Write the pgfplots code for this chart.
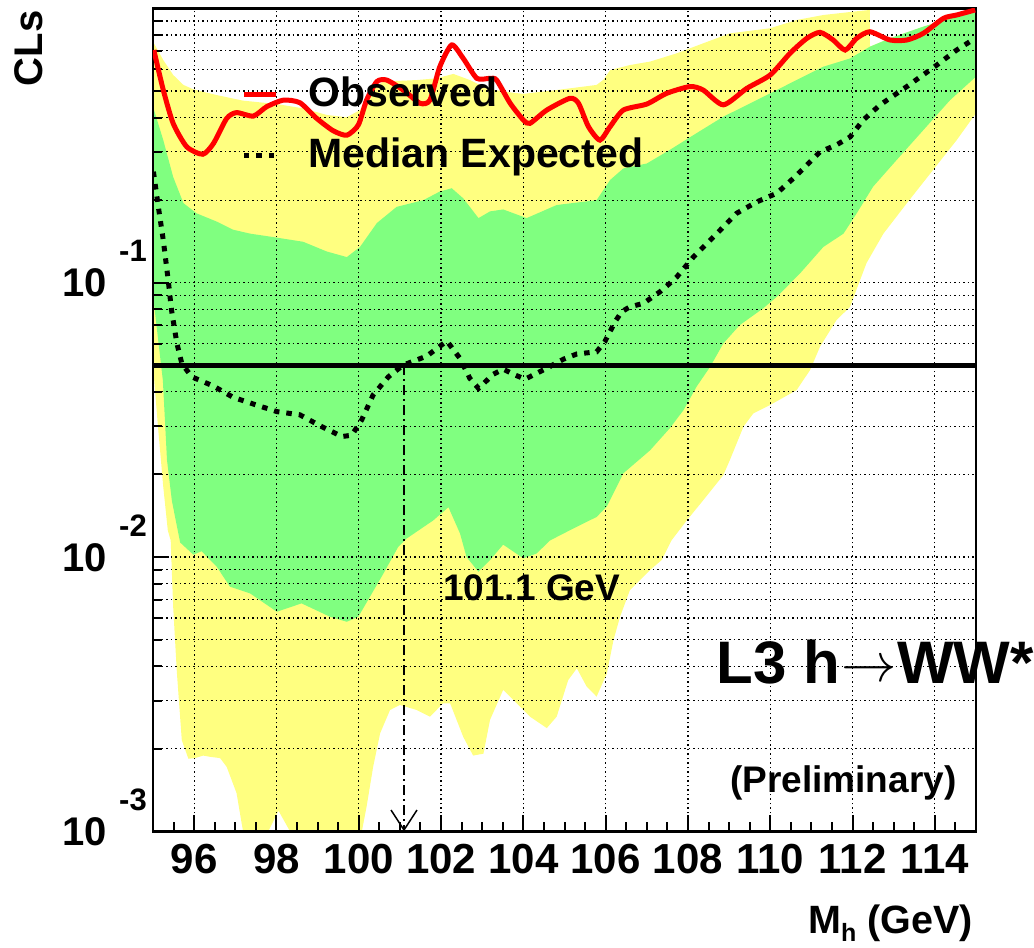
\documentclass[border=0pt]{standalone}
\usepackage{fontspec}
\setmainfont{Liberation Sans}
\usepackage{graphicx}
\usepackage{pgfplots}
\pgfplotsset{compat=1.18}
\usetikzlibrary{arrows.meta}
\definecolor{ylw}{RGB}{255,255,128}
\definecolor{grn}{RGB}{128,255,128}
% ROOT style "10^-n" tick label
\newcommand\ylab[1]{\fontsize{40}{40}\selectfont 10\hspace{12pt}\raisebox{35pt}{\fontsize{31}{31}\selectfont -#1}}
\newcommand\xl[1]{\fontsize{42}{42}\selectfont\bfseries #1}

\begin{document}
\begin{tikzpicture}
\begin{axis}[
  set layers, clip mode=individual,
  width=823pt, height=823pt, scale only axis,
  xmin=95, xmax=115, ymin=0.001, ymax=1, ymode=log,
  xtick={96,98,...,114},
  xticklabels={\xl{96},\xl{98},\xl{100},\xl{102},\xl{104},\xl{106},\xl{108},\xl{110},\xl{112},\xl{114}},
  minor xtick={95,95.5,...,115},
  ytick={0.001,0.01,0.1},
  yticklabels={\ylab{3},\ylab{2},\ylab{1}},
  minor ytick={0.002,0.003,0.004,0.005,0.006,0.007,0.008,0.009,
               0.02,0.03,0.04,0.05,0.06,0.07,0.08,0.09,
               0.2,0.3,0.4,0.5,0.6,0.7,0.8,0.9},
  tick pos=left, tick align=inside,
  major tick length=16pt, minor tick length=9pt,
  every tick/.style={black, line width=2pt},
  xmajorgrids, ymajorgrids, yminorgrids,
  grid style={black, line width=1.2pt, dash pattern=on 1.5pt off 3pt},
  axis line style={line width=2.3pt},
  xticklabel style={anchor=base, yshift=-42pt, inner sep=0pt},
  yticklabel style={font=\bfseries, anchor=base east, xshift=-6pt, yshift=-14pt, inner sep=0pt},
  xlabel={M\raisebox{-8pt}{\fontsize{25}{25}\selectfont h} (GeV)},
  xlabel style={at={(axis description cs:0.99635,-0.12394)}, anchor=base east, inner sep=0pt, font=\fontsize{39.5}{39.5}\selectfont\bfseries},
  ylabel={CLs},
  ylabel style={at={(axis description cs:-0.13366,0.99757)}, anchor=base east, inner sep=0pt, font=\fontsize{40}{40}\selectfont\bfseries},
  legend style={draw=none, fill=none, at={(0.1070,0.917)}, anchor=north west,
    font=\fontsize{41}{41}\selectfont\bfseries, inner sep=0pt, row sep=30pt, column sep=30pt,
    nodes={inner sep=0pt}},
  legend cell align=left,
  legend image code/.code={\draw[#1] (0pt,-2pt) -- (32pt,-2pt);},
]

% 2 sigma band
\addplot[fill=ylw, draw=none, forget plot, on layer=axis background] coordinates {
(95,0.756) (95.25,0.648) (95.49,0.572) (95.74,0.526) (95.98,0.507) (96.55,0.483)
(97.19,0.461) (98.01,0.448) (98.65,0.432) (99.22,0.409) (99.71,0.401) (100.03,0.426)
(100.27,0.504) (100.60,0.541) (101.41,0.548) (101.89,0.556) (102.30,0.577) (102.70,0.548)
(103.11,0.511) (103.53,0.497) (104.00,0.488) (104.81,0.504) (105.78,0.526) (105.95,0.55)
(106.11,0.596) (106.60,0.622) (107.08,0.640) (107.73,0.686) (108.37,0.746) (109.02,0.811)
(109.99,0.846) (110.64,0.907) (111.29,0.946) (112.02,0.973) (112.42,0.987) (112.42,0.725)
(112.91,0.778) (113.72,0.858) (114.53,0.933) (115,0.97)
(115,0.415) (114.53,0.331) (113.96,0.258) (113.32,0.195) (112.75,0.151) (112.34,0.118)
(112.18,0.102) (111.94,0.0817) (111.61,0.0731) (111.21,0.0585) (110.97,0.0481) (110.64,0.0406)
(109.99,0.0358) (109.59,0.0334) (109.35,0.0299) (109.02,0.0226) (108.86,0.0199) (108.37,0.0161)
(107.97,0.0136) (107.60,0.0115) (107.36,0.00975) (107.08,0.00897) (106.59,0.00758) (106.35,0.00606)
(106.19,0.00498) (106.03,0.00377) (105.78,0.00310) (105.54,0.00337) (105.30,0.00393) (105.09,0.00356)
(104.81,0.00262) (104.57,0.00238) (104.16,0.00262) (103.84,0.00293) (103.51,0.00328) (103.19,0.00255)
(103.03,0.00192) (102.78,0.00189) (102.54,0.00221) (102.22,0.00293) (102.05,0.00293) (101.73,0.00262)
(101.41,0.00277) (101.0,0.00289) (100.76,0.00277) (100.52,0.00228) (100.35,0.00172) (100.19,0.00123)
(100.07,0.00099) (99.95,0.0005) (98.4,0.0005) (98.33,0.001) (98.05,0.00119) (97.80,0.001)
(97.7,0.0005) (97.3,0.0005) (97.24,0.0009) (97.03,0.00138) (96.79,0.00172) (96.63,0.00185)
(96.39,0.00187) (96.22,0.00189) (96.02,0.00185) (95.86,0.00184) (95.70,0.00215) (95.58,0.0038)
(95.49,0.0066) (95.43,0.0115) (95.36,0.0125) (95.25,0.018) (95.12,0.03) (95,0.05)
} -- cycle;

% 1 sigma band
\addplot[fill=grn, draw=none, forget plot, on layer=axis background] coordinates {
(95,0.438) (95.25,0.331) (95.49,0.243) (95.74,0.195) (96.06,0.179) (96.55,0.167)
(96.95,0.156) (97.36,0.151) (98.01,0.146) (98.65,0.141) (99.22,0.130) (99.71,0.124)
(100.03,0.135) (100.44,0.165) (100.92,0.189) (101.57,0.200) (101.97,0.215) (102.26,0.221)
(102.54,0.203) (102.91,0.172) (103.19,0.182) (103.51,0.185) (104.08,0.172) (104.81,0.192)
(105.78,0.200) (106.11,0.237) (106.43,0.261) (107.00,0.272) (107.56,0.305) (108.21,0.351)
(108.86,0.403) (109.67,0.463) (110.48,0.533) (111.29,0.613) (111.94,0.657) (112.42,0.725)
(112.91,0.778) (113.72,0.858) (114.53,0.933) (115,0.97)
(115,0.564) (114.37,0.463) (113.72,0.360) (113.07,0.280) (112.50,0.224) (112.10,0.179)
(111.78,0.151) (111.29,0.135) (110.72,0.108) (110.16,0.0889) (109.83,0.0807) (109.26,0.0701)
(108.86,0.0601) (108.54,0.0494) (108.21,0.0418) (107.89,0.0343) (107.56,0.0295) (107.08,0.0245)
(106.43,0.0202) (106.03,0.0153) (105.78,0.0140) (105.21,0.0127) (104.65,0.0115) (104.32,0.0103)
(104.00,0.00989) (103.51,0.0111) (103.19,0.00975) (102.91,0.00884) (102.62,0.0100) (102.46,0.0122)
(102.18,0.0152) (101.81,0.0136) (101.17,0.0117) (100.96,0.0109) (100.60,0.00871) (99.99,0.00606)
(99.71,0.00581) (99.30,0.00606) (98.61,0.00678) (98.01,0.00632) (97.36,0.00737) (96.87,0.0078)
(96.55,0.00922) (96.18,0.0105) (95.98,0.0102) (95.66,0.0113) (95.46,0.016) (95.34,0.0226)
(95.24,0.044) (95,0.09)
} -- cycle;

% observed
\addplot[color={rgb,255:red,255;green,0;blue,0}, line width=5pt, smooth, tension=0.4] coordinates {
(95.02,0.705) (95.25,0.504) (95.49,0.381) (95.82,0.313) (96.21,0.294) (96.47,0.322)
(96.79,0.397) (97.03,0.417) (97.44,0.405) (97.76,0.438) (98.17,0.463) (98.57,0.453)
(98.98,0.397) (99.38,0.358) (99.71,0.345) (99.99,0.376) (100.19,0.463) (100.44,0.541)
(100.68,0.548) (101.08,0.504) (101.49,0.451) (101.73,0.463) (101.97,0.613) (102.26,0.736)
(102.54,0.657) (102.87,0.556) (103.19,0.556) (103.35,0.548) (103.68,0.451) (104.00,0.392)
(104.16,0.381) (104.57,0.426) (105.13,0.470) (105.34,0.451) (105.58,0.371) (105.86,0.331)
(106.11,0.371) (106.43,0.426) (107.00,0.448) (107.48,0.490) (108.05,0.519) (108.37,0.504)
(108.86,0.445) (109.43,0.511) (110.00,0.572) (110.48,0.686) (110.89,0.778) (111.21,0.818)
(111.53,0.767) (111.82,0.705) (112.10,0.778) (112.42,0.822) (112.91,0.767) (113.32,0.767)
(113.72,0.811) (114.21,0.920) (114.53,0.946) (114.98,0.987)
};
\addlegendentry{Observed}

% median expected
\addplot[black, line width=5pt, dash pattern=on 5.5pt off 7pt] coordinates {
(95.01,0.254) (95.13,0.189) (95.25,0.143) (95.37,0.102) (95.45,0.0795) (95.58,0.0602)
(95.70,0.0508) (95.94,0.0454) (96.47,0.0420) (96.95,0.0382) (97.52,0.0358) (98.01,0.0339)
(98.57,0.0330) (99.06,0.0301) (99.59,0.0275) (99.83,0.0278) (100.07,0.0316) (100.35,0.0390)
(100.72,0.0454) (101.08,0.0501) (101.65,0.0540) (102.14,0.0613) (102.46,0.0530) (102.70,0.0448)
(102.91,0.0412) (103.27,0.0464) (103.51,0.0484) (103.80,0.0461) (104.04,0.0445) (104.57,0.0488)
(104.97,0.0526) (105.30,0.0550) (105.78,0.0560) (105.98,0.0610) (106.23,0.0721) (106.39,0.0784)
(106.59,0.0817) (106.92,0.0841) (107.32,0.0927) (107.56,0.0995) (107.73,0.105) (108.13,0.124)
(108.70,0.151) (109.18,0.179) (109.67,0.197) (110.16,0.212) (110.56,0.240) (110.97,0.276)
(111.21,0.300) (111.61,0.318) (111.94,0.340) (112.26,0.392) (112.67,0.445) (113.32,0.519)
(114.05,0.622) (114.53,0.705) (114.98,0.778)
};
\addlegendentry{Median Expected}

% 95% CL line and expected limit marker
\addplot[black, line width=4.7pt, forget plot] coordinates {(95,0.05) (115,0.05)};
\addplot[black, line width=2pt, dash pattern=on 10pt off 4pt on 2pt off 4pt, forget plot,
  -{Straight Barb[length=20pt,width=26pt,line width=1.5pt]}] coordinates {(101.1,0.05) (101.1,0.001)};
\end{axis}

\node[anchor=base west, inner sep=0pt, font=\fontsize{37}{37}\selectfont\bfseries] at (290pt,231pt) {101.1 GeV};
\node[anchor=base west, inner sep=0pt, font=\fontsize{60}{60}\selectfont\bfseries] at (563.7pt,147.7pt)
  {L3 h\kern1pt\raisebox{2pt}{\resizebox{55pt}{!}{$\rightarrow$}}\kern1pt WW*};
\node[anchor=base west, inner sep=0pt, font=\fontsize{37}{37}\selectfont\bfseries] at (577pt,39.3pt) {(Preliminary)};

\pgfresetboundingbox
\path (-153pt,-116pt) rectangle (881pt,831.4pt);
\end{tikzpicture}
\end{document}
